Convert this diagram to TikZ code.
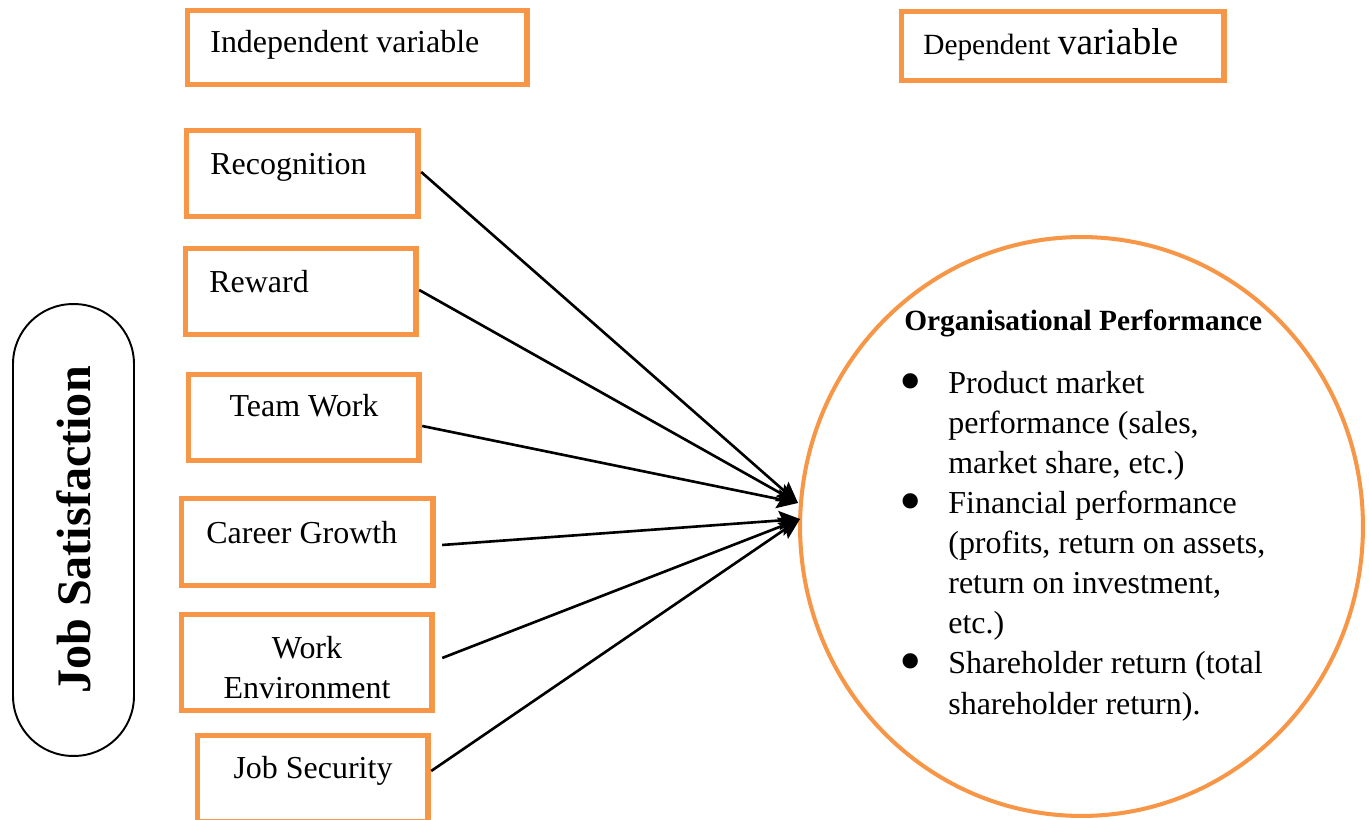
\documentclass[tikz,border=0pt]{standalone}
\usepackage{fontspec}
\setmainfont{Liberation Serif}
\usepackage{xcolor}
\usetikzlibrary{arrows.meta,shapes}
\definecolor{accent}{RGB}{247,150,70}
\newcommand{\bul}{\makebox[0.98cm][l]{\raisebox{-0.27em}{\scalebox{2}{\textbullet}}}}
\newcommand{\ind}{\hspace*{0.98cm}}
\begin{document}
\begin{tikzpicture}[x=0.02cm,y=-0.02cm,>={Stealth[length=0.42cm,width=0.38cm,inset=0.07cm]},
ob/.style={draw=accent,line width=3.1pt,anchor=north west,inner sep=0pt,outer sep=0pt},
lb/.style={inner sep=0pt,font=\fontsize{18.2}{22.8}\selectfont},
ar/.style={->,line width=1.5pt}]
\useasboundingbox(0,0)rectangle(1369,820);
\node[ob,minimum width=6.79cm,minimum height=1.47cm](indep)at(187.75,10.75){};
\node[ob,minimum width=6.45cm,minimum height=1.37cm](dep)at(901.75,11.75){};
\node[ob,minimum width=4.63cm,minimum height=1.71cm](recog)at(186.75,130.75){};
\node[ob,minimum width=4.61cm,minimum height=1.71cm](reward)at(185.75,248.75){};
\node[ob,minimum width=4.61cm,minimum height=1.71cm](team)at(188.75,374.75){};
\node[ob,minimum width=5.03cm,minimum height=1.73cm](career)at(181.75,498.75){};
\node[ob,minimum width=5.01cm,minimum height=1.91cm](workenv)at(181.75,614.75){};
\node[ob,minimum width=4.61cm,minimum height=1.71cm](jobsec)at(197.75,735.75){};
\node[lb,anchor=base west](indeplb)at(210,53){Independent variable};
\node[lb,anchor=base west,font=\fontsize{16.7}{20}\selectfont](deplb)at(923,55){Dependent {\fontsize{21.3}{24}\selectfont variable}};
\node[lb,anchor=base west](recoglb)at(210,175){Recognition};
\node[lb,anchor=base west](rewardlb)at(209,293){Reward};
\node[lb,anchor=base](teamlb)at(304,417){Team Work};
\node[lb,anchor=base west](careerlb)at(206,543){Career Growth};
\node[lb,align=center](workenvlb)at(307,668){Work\\Environment};
\node[lb,anchor=base](jobseclb)at(313,778){Job Security};
\node[draw,line width=1.1pt,rotate=90,rounded corners=1.2cm,minimum width=9.04cm,minimum height=2.42cm,inner sep=0pt,
  font=\bfseries\fontsize{27.4}{30}\selectfont](jobsat)at(73.5,530){Job Satisfaction};
\node[draw=accent,line width=2.3pt,ellipse,minimum width=11.26cm,minimum height=11.58cm,inner sep=0pt](perf)at(1081.5,526.5){};
\node[lb,anchor=base west,font=\bfseries\fontsize{16.7}{20}\selectfont](perftitle)at(904,331){Organisational Performance};
\node[lb,anchor=north west,align=left](perflist)at(899,371){%
\bul Product market\\
\ind performance (sales,\\
\ind market share, etc.)\\
\bul Financial performance\\
\ind (profits, return on assets,\\
\ind return on investment,\\
\ind etc.)\\
\bul Shareholder return (total\\
\ind shareholder return).};
\coordinate(inA)at(798,503);
\coordinate(inB)at(800,519);
\draw[ar]([shift={(3,-1.5)}]recog.east)--(inA);
\draw[ar]([shift={(3,-1.5)}]reward.east)--(inA);
\draw[ar]([shift={(3,8.5)}]team.east)--(inA);
\draw[ar]([shift={(9,3)}]career.east)--(inB);
\draw[ar]([shift={(10,-4.5)}]workenv.east)--(inB);
\draw[ar]([shift={(3,-7.5)}]jobsec.east)--(inB);
\end{tikzpicture}
\end{document}
